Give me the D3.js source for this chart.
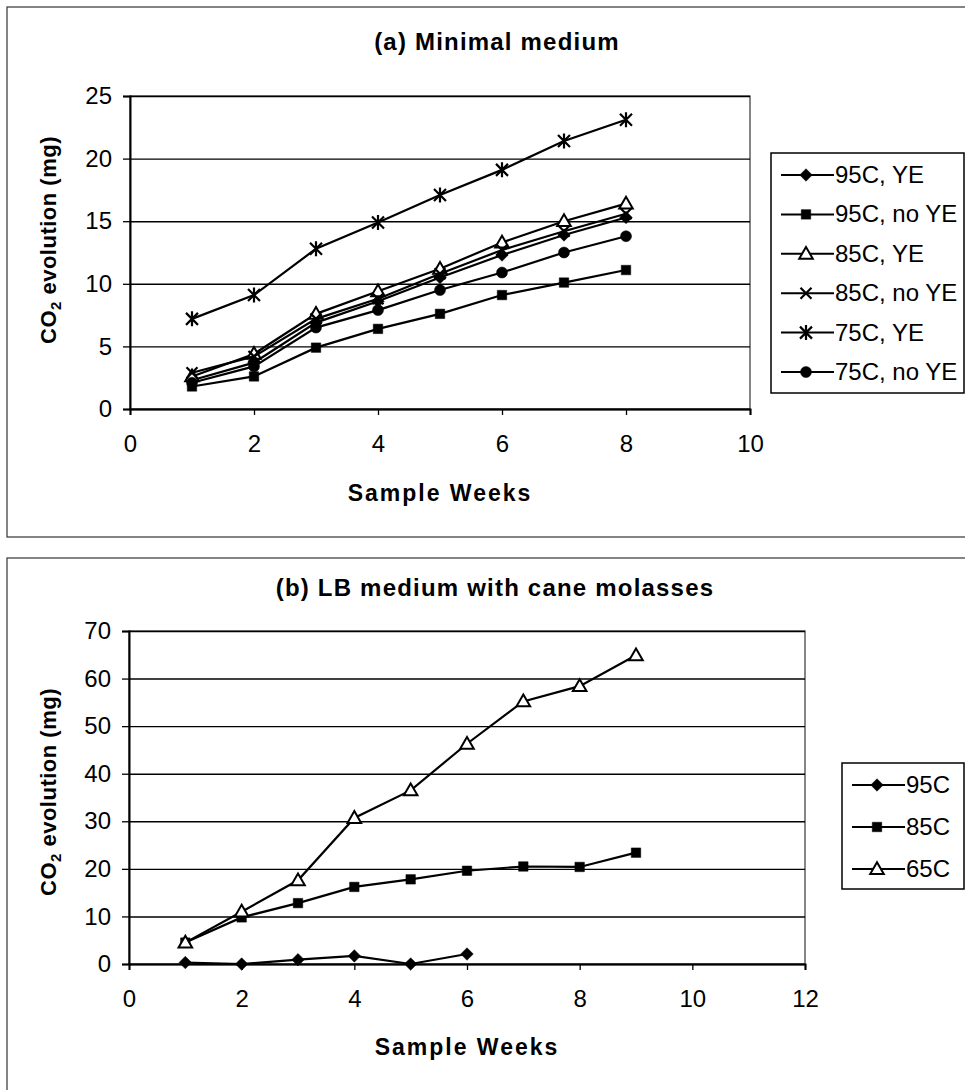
<!DOCTYPE html>
<html>
<head>
<meta charset="utf-8">
<script src="https://cdn.jsdelivr.net/npm/d3@7"></script>
<style>
  body { margin: 0; background: #fff; }
  svg text { font-family: "Liberation Sans", Arial, sans-serif; fill: #000; }
</style>
</head>
<body>
<div id="chart"></div>
<script>
// ---------- data: panel (a) minimal medium ----------
var weeksA = [1, 2, 3, 4, 5, 6, 7, 8];
var a95YE   = [2.3, 3.7, 6.9, 8.6, 10.5, 12.3, 13.9, 15.3];
var a95noYE = [1.8, 2.6, 4.9, 6.4, 7.6, 9.1, 10.1, 11.1];
var a85YE   = [2.6, 4.4, 7.6, 9.4, 11.2, 13.3, 15.0, 16.4];
var a85noYE = [2.9, 4.2, 7.2, 8.8, 10.8, 12.7, 14.2, 15.6];
var a75YE   = [7.2, 9.1, 12.8, 14.9, 17.1, 19.1, 21.4, 23.1];
var a75noYE = [2.1, 3.4, 6.5, 7.9, 9.5, 10.9, 12.5, 13.8];
var namesA  = ["95C, YE", "95C, no YE", "85C, YE", "85C, no YE", "75C, YE", "75C, no YE"];
var xTicksA = [0, 2, 4, 6, 8, 10];
var yTicksA = [0, 5, 10, 15, 20, 25];

// ---------- data: panel (b) LB medium with cane molasses ----------
var weeksB95 = [1, 2, 3, 4, 5, 6];
var weeksB   = [1, 2, 3, 4, 5, 6, 7, 8, 9];
var b95 = [0.3, 0.0, 0.9, 1.7, 0.0, 2.1];
var b85 = [4.5, 9.8, 12.8, 16.2, 17.8, 19.6, 20.5, 20.4, 23.4];
var b65 = [4.5, 11.0, 17.6, 30.7, 36.5, 46.3, 55.2, 58.4, 64.9];
var namesB  = ["95C", "85C", "65C"];
var xTicksB = [0, 2, 4, 6, 8, 10, 12];
var yTicksB = [0, 10, 20, 30, 40, 50, 60, 70];

var W = 965, H = 1090;
var svg = d3.select("#chart").append("svg")
    .attr("width", W).attr("height", H);

// ---------- marker shapes ----------
function markerPath(kind) {
  if (kind == "diamond") return d3.symbol().type(d3.symbolDiamond2).size(100)();
  if (kind == "square") return d3.symbol().type(d3.symbolSquare).size(90)();
  if (kind == "triangle") return d3.symbol().type(d3.symbolTriangle).size(80)();
  if (kind == "circle") return d3.symbol().type(d3.symbolCircle).size(95)();
  if (kind == "times") return "M-5.5,-5.5L5.5,5.5M-5.5,5.5L5.5,-5.5";
  if (kind == "asterisk") return "M-6,-6L6,6M-6,6L6,-6M0,-7.5L0,7.5";
}
function addMarker(g, kind, x, y) {
  var hollow = (kind == "triangle");
  var stroked = (kind == "times" || kind == "asterisk");
  g.append("path")
    .attr("d", markerPath(kind))
    .attr("transform", "translate(" + x + "," + (kind == "triangle" ? y + 1 : y) + ")")
    .attr("fill", hollow ? "#fff" : (stroked ? "none" : "#000"))
    .attr("stroke", "#000")
    .attr("stroke-width", stroked ? 2.2 : (hollow ? 2 : 0.5));
}

// ---------- one chart panel ----------
function drawPanel(p) {
  // outer frame of the chart area
  svg.append("rect")
    .attr("x", p.frame[0]).attr("y", p.frame[1])
    .attr("width", p.frame[2]).attr("height", p.frame[3])
    .attr("fill", "none").attr("stroke", "#333").attr("stroke-width", 1.2);

  var x = d3.scaleLinear().domain(p.xDomain).range([p.left, p.right]);
  var y = d3.scaleLinear().domain(p.yDomain).range([p.bottom, p.top]);

  // plot border
  svg.append("rect")
    .attr("x", p.left).attr("y", p.top)
    .attr("width", p.right - p.left).attr("height", p.bottom - p.top)
    .attr("fill", "#fff").attr("stroke", "#444").attr("stroke-width", 1.3);

  // gridlines
  svg.append("g")
    .attr("transform", "translate(" + p.left + ",0)")
    .call(d3.axisLeft(y).tickValues(p.yTicks).tickSize(-(p.right - p.left)).tickFormat(""))
    .call(function(g) { g.select(".domain").remove(); })
    .selectAll("line").attr("stroke", "#000").attr("stroke-width", 1.4);

  // axes
  var yAxis = svg.append("g")
    .attr("transform", "translate(" + p.left + ",0)")
    .call(d3.axisLeft(y).tickValues(p.yTicks).tickSize(7).tickPadding(11));
  var xAxis = svg.append("g")
    .attr("transform", "translate(0," + p.bottom + ")")
    .call(d3.axisBottom(x).tickValues(p.xTicks).tickSize(6).tickPadding(20));
  [yAxis, xAxis].forEach(function(ax) {
    ax.select(".domain").attr("stroke", "#000").attr("stroke-width", 2);
    ax.selectAll("line").attr("stroke", "#000").attr("stroke-width", 1.3);
    ax.selectAll("text").style("font-size", "24px").attr("fill", "#000");
  });

  // titles
  svg.append("text")
    .attr("x", p.titleX).attr("y", p.titleY)
    .attr("text-anchor", "middle")
    .style("font-size", "24px").style("font-weight", "bold")
    .style("letter-spacing", "1.2px")
    .text(p.title);

  svg.append("text")
    .attr("x", (p.left + p.right) / 2).attr("y", p.xTitleY)
    .attr("text-anchor", "middle")
    .style("font-size", "23px").style("font-weight", "bold")
    .style("letter-spacing", "2px")
    .text("Sample Weeks");

  var yt = svg.append("text")
    .attr("transform", "translate(" + p.yTitleX + "," + p.yTitleY + ") rotate(-90)")
    .attr("text-anchor", "middle")
    .style("font-size", "22px").style("font-weight", "bold")
    .style("letter-spacing", "0.5px");
  yt.append("tspan").text("CO");
  yt.append("tspan").attr("dy", 5).style("font-size", "15px").text("2");
  yt.append("tspan").attr("dy", -5).text(" evolution (mg)");

  // series
  var line = d3.line().x(function(d) { return x(d[0]); }).y(function(d) { return y(d[1]); });
  p.series.forEach(function(s) {
    var pts = d3.zip(s.weeks, s.values);
    svg.append("path")
      .datum(pts)
      .attr("d", line)
      .attr("fill", "none").attr("stroke", "#000").attr("stroke-width", 2.2);
    var g = svg.append("g");
    pts.forEach(function(d) { addMarker(g, s.marker, x(d[0]), y(d[1])); });
  });

  // legend
  var L = p.legend;
  svg.append("rect")
    .attr("x", L.x).attr("y", L.y).attr("width", L.w).attr("height", L.h)
    .attr("fill", "#fff").attr("stroke", "#000").attr("stroke-width", 1.5);
  p.series.forEach(function(s, i) {
    var cy = L.y + L.first + i * L.step;
    var g = svg.append("g");
    g.append("line")
      .attr("x1", L.x + 10).attr("x2", L.x + 63)
      .attr("y1", cy).attr("y2", cy)
      .attr("stroke", "#000").attr("stroke-width", 2);
    addMarker(g, s.marker, L.x + 35, cy);
    g.append("text")
      .attr("x", L.x + 64).attr("y", cy + 8)
      .style("font-size", "24px")
      .text(s.name);
  });
}

var markersA = ["diamond", "square", "triangle", "times", "asterisk", "circle"];
var valuesA = [a95YE, a95noYE, a85YE, a85noYE, a75YE, a75noYE];

drawPanel({
  frame: [7, 7, 990, 530],
  left: 130, right: 750, top: 96, bottom: 409,
  xDomain: [0, 10], yDomain: [0, 25],
  xTicks: xTicksA, yTicks: yTicksA,
  title: "(a) Minimal medium", titleX: 497, titleY: 50,
  xTitleY: 501, yTitleX: 56, yTitleY: 240,
  series: namesA.map(function(n, i) {
    return { name: n, weeks: weeksA, values: valuesA[i], marker: markersA[i] };
  }),
  legend: { x: 771, y: 153, w: 193, h: 240, first: 22, step: 39.4 }
});

drawPanel({
  frame: [7, 558, 990, 560],
  left: 129, right: 805, top: 631, bottom: 964,
  xDomain: [0, 12], yDomain: [0, 70],
  xTicks: xTicksB, yTicks: yTicksB,
  title: "(b) LB medium with cane molasses", titleX: 495, titleY: 596,
  xTitleY: 1055, yTitleX: 56, yTitleY: 792,
  series: [
    { name: namesB[0], weeks: weeksB95, values: b95, marker: "diamond" },
    { name: namesB[1], weeks: weeksB, values: b85, marker: "square" },
    { name: namesB[2], weeks: weeksB, values: b65, marker: "triangle" }
  ],
  legend: { x: 842, y: 763, w: 122, h: 126, first: 22, step: 42 }
});
</script>
</body>
</html>
